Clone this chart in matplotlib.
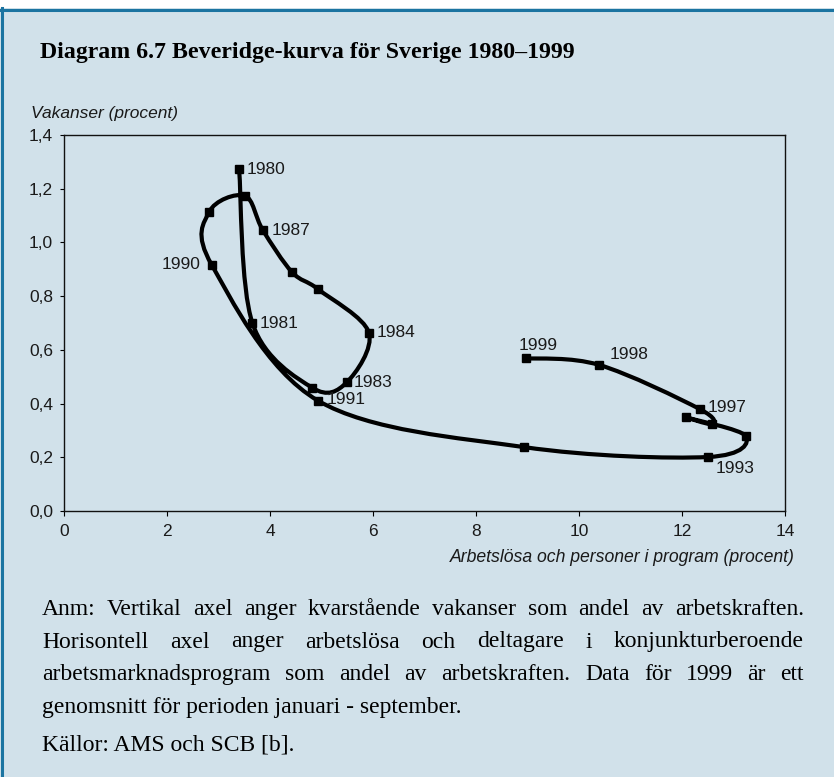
"""Beveridge curve for Sweden 1980-1999, recreated with matplotlib."""

import matplotlib.pyplot as plt
import numpy as np
from matplotlib.patches import PathPatch, Rectangle
from matplotlib.path import Path
from matplotlib.lines import Line2D

# Unemployed + people in labour market programmes (% of labour force) and vacancies (%)
years = list(range(1980, 2000))
unemployment = [3.40, 3.66, 4.82, 5.49, 5.92, 4.94, 4.43, 3.86, 3.51, 2.82,
                2.87, 4.93, 8.93, 12.50, 13.24, 12.07, 12.59, 12.34, 10.39, 8.97]
vacancies = [1.273, 0.699, 0.459, 0.479, 0.664, 0.825, 0.889, 1.046, 1.174, 1.114,
             0.916, 0.411, 0.238, 0.201, 0.279, 0.349, 0.323, 0.380, 0.544, 0.569]

labelled_years = [1980, 1981, 1983, 1984, 1987, 1990, 1991, 1993, 1997, 1998, 1999]
# offset in pixels from the marker + horizontal alignment
label_offsets = {
    1980: (8, 0, "left"), 1981: (7, 0, "left"), 1983: (7, 0, "left"),
    1984: (8, 0, "left"), 1987: (9, 0, "left"), 1990: (-11, 0, "right"),
    1991: (9, 1, "left"), 1993: (8, -11, "left"), 1997: (8, 1, "left"),
    1998: (11, 10, "left"), 1999: (-7, 13, "left"),
}

x_ticks = [0, 2, 4, 6, 8, 10, 12, 14]
y_ticks = [0.0, 0.2, 0.4, 0.6, 0.8, 1.0, 1.2, 1.4]
y_tick_labels = [f"{v:.1f}".replace(".", ",") for v in y_ticks]

title = "Diagram 6.7 Beveridge-kurva för Sverige 1980–1999"
y_label = "Vakanser (procent)"
x_label = "Arbetslösa och personer i program (procent)"
note_justified = [
    "Anm: Vertikal axel anger kvarstående vakanser som andel av arbetskraften.",
    "Horisontell axel anger arbetslösa och deltagare i konjunkturberoende",
    "arbetsmarknadsprogram som andel av arbetskraften. Data för 1999 är ett",
]
note_last = "genomsnitt för perioden januari - september."
source = "Källor: AMS och SCB [b]."

BG = "#d1e1ea"
BORDER = "#1b74a1"
INK = "#1a1a1a"
SANS = ["Liberation Sans", "DejaVu Sans"]
SERIF = ["Liberation Serif", "DejaVu Serif"]

W, H = 834, 777
fig = plt.figure(figsize=(W / 100, H / 100), dpi=100)
fig.patch.set_facecolor("white")

# panel background and blue borders (top + left)
fig.patches.append(Rectangle((0, 0), 1, 1 - 8 / H, transform=fig.transFigure,
                             facecolor=BG, edgecolor="none", zorder=-10))
fig.lines.append(Line2D([0, 1], [1 - 9.5 / H] * 2, transform=fig.transFigure,
                        color=BORDER, lw=2.2, zorder=-5))
fig.lines.append(Line2D([2 / W] * 2, [0, 1 - 8 / H], transform=fig.transFigure,
                        color=BORDER, lw=2.2, zorder=-5))

ax = fig.add_axes([64 / W, 1 - 511 / H, 721 / W, 376 / H])
ax.set_facecolor(BG)
ax.set_xlim(0, 14)
ax.set_ylim(0, 1.4)
for sp in ax.spines.values():
    sp.set_linewidth(1.0)
    sp.set_color("#111111")

# smoothed line (Catmull-Rom style Bezier, like spreadsheet "smoothed line")
pts = np.column_stack([unemployment, vacancies])
n = len(pts)
verts = [pts[0]]
codes = [Path.MOVETO]
for i in range(n - 1):
    p0 = pts[max(i - 1, 0)]
    p1 = pts[i]
    p2 = pts[i + 1]
    p3 = pts[min(i + 2, n - 1)]
    verts += [p1 + (p2 - p0) / 6, p2 - (p3 - p1) / 6, p2]
    codes += [Path.CURVE4] * 3
ax.add_patch(PathPatch(Path(verts, codes), fill=False, lw=3.0,
                       edgecolor="black", capstyle="butt", joinstyle="round"))
ax.plot(unemployment, vacancies, ls="none", marker="s", markersize=5.5,
        color="black", zorder=3)

for yr in labelled_years:
    i = years.index(yr)
    dx, dy, ha = label_offsets[yr]
    ax.annotate(str(yr), (unemployment[i], vacancies[i]), xytext=(dx, dy),
                textcoords="offset pixels", ha=ha, va="center",
                fontsize=12.5, family=SANS, color=INK)

ax.set_xticks(x_ticks)
ax.set_xticklabels([str(v) for v in x_ticks])
ax.set_yticks(y_ticks)
ax.set_yticklabels(y_tick_labels)
ax.tick_params(axis="x", direction="out", length=3.5, width=0.8, pad=6,
               labelsize=12.5, labelcolor=INK)
ax.tick_params(axis="y", direction="out", length=3, width=0.8, pad=5,
               labelsize=12.5, labelcolor=INK)
for lab in ax.get_xticklabels() + ax.get_yticklabels():
    lab.set_family(SANS)

fig.text(31 / W, 1 - 118 / H, y_label, ha="left", va="baseline",
         fontsize=12.5, style="italic", family=SANS, color=INK)
fig.text(795 / W, 1 - 557 / H, x_label, ha="right", va="center",
         fontsize=12.7, style="italic", family=SANS, color=INK)

fig.text(40 / W, 1 - 58 / H, title, ha="left", va="baseline",
         fontsize=17.2, weight="bold", family=SERIF, color="black")

# justified footnote lines
renderer = fig.canvas.get_renderer()
x_left, x_right = 42, 804
baselines = [615, 647.5, 680]
for line, base in zip(note_justified, baselines):
    words = line.split()
    items = [fig.text(0, 1 - base / H, w, ha="left", va="baseline",
                      fontsize=17, family=SERIF, color="black") for w in words]
    widths = [t.get_window_extent(renderer).width for t in items]
    gap = (x_right - x_left - sum(widths)) / (len(words) - 1)
    x = x_left
    for t, w in zip(items, widths):
        t.set_x(x / W)
        x += w + gap
fig.text(x_left / W, 1 - 712.5 / H, note_last, ha="left", va="baseline",
         fontsize=17, family=SERIF, color="black")
fig.text(x_left / W, 1 - 750 / H, source, ha="left", va="baseline",
         fontsize=17, family=SERIF, color="black")

fig.savefig("out.png", dpi=100, facecolor=fig.get_facecolor())
